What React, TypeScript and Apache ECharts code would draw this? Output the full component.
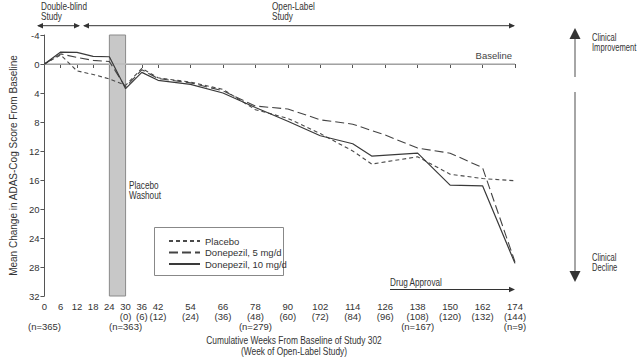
import React, { useEffect, useRef } from "react";
import * as echarts from "echarts";

const FONT = "'Liberation Sans', Arial, sans-serif";

const tickWeeks = [0, 6, 12, 18, 24, 30, 36, 42, 54, 66, 78, 90, 102, 114, 126, 138, 150, 162, 174];
const openLabelStart = 30;
const nWeeks = [0, 30, 78, 138, 174];
const nLabels = ["(n=365)", "(n=363)", "(n=279)", "(n=167)", "(n=9)"];
const yTicks = { min: -4, max: 32, interval: 4 };

const seriesNames = ["Placebo", "Donepezil, 5 mg/d", "Donepezil, 10 mg/d"];

const placeboWeeks = [0, 6, 12, 18, 24, 30, 36, 42, 54, 66, 78, 90, 102, 114, 121, 138, 150, 162, 174];
const placeboVals = [0, -1.25, 0.95, 1.45, 2.05, 2.95, 0.6, 1.9, 2.5, 3.5, 6.3, 7.5, 9.6, 12.0, 13.8, 12.8, 15.2, 15.8, 16.1];

const mg5Weeks = [0, 6, 12, 18, 24, 30, 36, 42, 54, 66, 78, 90, 102, 114, 126, 138, 150, 162, 174];
const mg5Vals = [0, -1.4, -0.9, -0.5, -0.35, 3.2, 0.8, 2.0, 2.6, 3.7, 5.8, 6.2, 7.7, 8.3, 9.8, 11.6, 12.3, 14.3, 27.3];

const mg10Weeks = [0, 6, 12, 18, 24, 30, 36, 42, 54, 66, 78, 90, 102, 114, 121, 138, 150, 162, 174];
const mg10Vals = [0, -1.65, -1.6, -1.05, -1.0, 3.4, 1.15, 2.25, 2.8, 4.0, 6.0, 7.9, 9.9, 11.0, 12.7, 12.3, 16.7, 16.8, 27.5];

const washout = [24, 30];

const pair = (w: number[], v: number[]) => w.map((x, i) => [x, v[i]]);

const TXT = "#333";
const ARROW = "#333";
const FS = 9.5;

function arrowHead(tipX: number, tipY: number, dir: "l" | "r" | "u" | "d", len = 7, half = 3) {
  let pts: number[][];
  if (dir === "l") pts = [[tipX, tipY], [tipX + len, tipY - half], [tipX + len, tipY + half]];
  else if (dir === "r") pts = [[tipX, tipY], [tipX - len, tipY - half], [tipX - len, tipY + half]];
  else if (dir === "u") pts = [[tipX, tipY], [tipX - half, tipY + len], [tipX + half, tipY + len]];
  else pts = [[tipX, tipY], [tipX - half, tipY - len], [tipX + half, tipY - len]];
  return { type: "polygon", shape: { points: pts }, style: { fill: ARROW }, silent: true };
}

function hline(x1: number, x2: number, y: number, color = ARROW, w = 1) {
  return { type: "line", shape: { x1, y1: y, x2, y2: y }, style: { stroke: color, lineWidth: w }, silent: true };
}
function vline(x: number, y1: number, y2: number, color = ARROW, w = 1) {
  return { type: "line", shape: { x1: x, y1, x2: x, y2 }, style: { stroke: color, lineWidth: w }, silent: true };
}
function txt(x: number, y: number, text: string, align = "left", size = 10, sx = 0.82, lh = 10) {
  return {
    type: "text",
    x,
    y,
    scaleX: sx,
    silent: true,
    style: { text, fill: TXT, font: `${size}px ${FONT}`, textAlign: align, textVerticalAlign: "top", lineHeight: lh },
  };
}

export default function App() {
  const ref = useRef<HTMLDivElement>(null);
  useEffect(() => {
    if (!ref.current) return;
    const chart = echarts.init(ref.current, undefined, { renderer: "svg" });
    const lineCol = "#3a3a3a";
    const baseX = {
      type: "value",
      min: 0,
      max: 174,
      interval: 6,
      splitLine: { show: false },
    };
    chart.setOption({
      animation: false,
      textStyle: { fontFamily: FONT },
      grid: { left: 35, right: 125, top: 35, bottom: 63, containLabel: false },
      xAxis: [
        {
          ...baseX,
          axisLine: { lineStyle: { color: "#555", width: 1 } },
          axisTick: { customValues: tickWeeks, length: 4, lineStyle: { color: "#555" } },
          axisLabel: {
            customValues: tickWeeks,
            showMinLabel: true,
            showMaxLabel: true,
            hideOverlap: false,
            color: TXT,
            fontSize: FS,
            lineHeight: 10,
            margin: 5,
            verticalAlign: "top",
            fontFamily: FONT,
            formatter: (v: number) => (v >= openLabelStart ? `${v}\n(${v - openLabelStart})` : `${v}`),
          },
        },
        {
          ...baseX,
          position: "bottom",
          axisLine: { show: false },
          axisTick: { show: false },
          axisLabel: {
            customValues: nWeeks,
            showMinLabel: true,
            showMaxLabel: true,
            color: TXT,
            fontSize: FS,
            margin: 25,
            verticalAlign: "top",
            fontFamily: FONT,
            formatter: (v: number) => nLabels[nWeeks.indexOf(v)] || "",
          },
        },
      ],
      yAxis: {
        type: "value",
        inverse: true,
        min: yTicks.min,
        max: yTicks.max,
        interval: yTicks.interval,
        splitLine: { show: false },
        axisLine: { show: true, lineStyle: { color: "#555", width: 1 } },
        axisTick: { show: true, length: 4, lineStyle: { color: "#555" } },
        axisLabel: { color: TXT, fontSize: FS, margin: 5, fontFamily: FONT },
        name: "Mean Change in ADAS-Cog Score From Baseline",
        nameLocation: "middle",
        nameGap: 26,
        nameRotate: 90,
        nameTextStyle: { color: TXT, fontSize: 10, fontFamily: FONT },
      },
      legend: {
        data: seriesNames,
        orient: "vertical",
        left: 168,
        top: 236,
        itemWidth: 31,
        itemHeight: 10,
        itemGap: 1.5,
        padding: 0,
        itemStyle: { opacity: 0 },
        textStyle: { color: TXT, fontSize: FS, fontFamily: FONT, padding: [0, 0, 0, 0] },
      },
      series: [
        {
          name: seriesNames[0],
          type: "line",
          data: pair(placeboWeeks, placeboVals),
          symbol: "none",
          lineStyle: { color: "#4a4a4a", width: 1.1, type: [4, 3] },
          itemStyle: { color: "#4a4a4a" },
          z: 5,
          markArea: {
            silent: true,
            itemStyle: { color: "#c8c8c8", borderColor: "#8a8a8a", borderWidth: 1 },
            data: [[{ xAxis: washout[0] }, { xAxis: washout[1] }]],
          },
          markLine: {
            silent: true,
            symbol: ["none", "none"],
            lineStyle: { color: "#bdbdbd", width: 1.5, type: "solid" },
            label: {
              show: true,
              formatter: "Baseline",
              position: "insideEndTop",
              color: "#444",
              fontSize: FS,
              fontFamily: FONT,
              distance: [3, 4],
            },
            data: [{ yAxis: 0 }],
          },
        },
        {
          name: seriesNames[1],
          type: "line",
          data: pair(mg5Weeks, mg5Vals),
          symbol: "none",
          lineStyle: { color: "#444", width: 1.1, type: [9, 4] },
          itemStyle: { color: "#444" },
          z: 6,
        },
        {
          name: seriesNames[2],
          type: "line",
          data: pair(mg10Weeks, mg10Vals),
          symbol: "none",
          lineStyle: { color: lineCol, width: 1.2, type: "solid" },
          itemStyle: { color: lineCol },
          z: 7,
        },
      ],
      graphic: [
        {
          type: "rect",
          shape: { x: 154.5, y: 227.5, width: 129, height: 48 },
          style: { fill: "none", stroke: "#888", lineWidth: 1 },
          silent: true,
        },
        txt(41, 2, "Double-blind\nStudy"),
        txt(272, 2, "Open-Label\nStudy"),
        hline(38, 79, 25.7),
        arrowHead(37, 25.7, "l", 6, 2.8),
        arrowHead(80, 25.7, "r", 6, 2.8),
        hline(84, 514, 25.7),
        arrowHead(83, 25.7, "l", 6, 2.8),
        arrowHead(515, 25.7, "r", 6, 2.8),
        txt(129, 181, "Placebo\nWashout"),
        txt(390, 278, "Drug Approval"),
        hline(390, 512, 289.5),
        arrowHead(515, 289.5, "r", 6, 2.8),
        vline(575, 38, 77, "#888", 1.5),
        arrowHead(575, 28, "u", 11, 5.5),
        vline(575, 92, 272, "#888", 1.5),
        arrowHead(575, 282, "d", 11, 5.5),
        txt(592, 33, "Clinical\nImprovement", "left", 10, 0.76),
        txt(592, 253, "Clinical\nDecline", "left", 10, 0.76),
        { ...txt(0, 335, "Cumulative Weeks From Baseline of Study 302\n(Week of Open-Label Study)", "center", 10, 0.84, 11), x: 294 },
      ],
    });
    return () => chart.dispose();
  }, []);
  return <div ref={ref} style={{ position: "absolute", left: 0, top: 0, width: 640, height: 359 }} />;
}
